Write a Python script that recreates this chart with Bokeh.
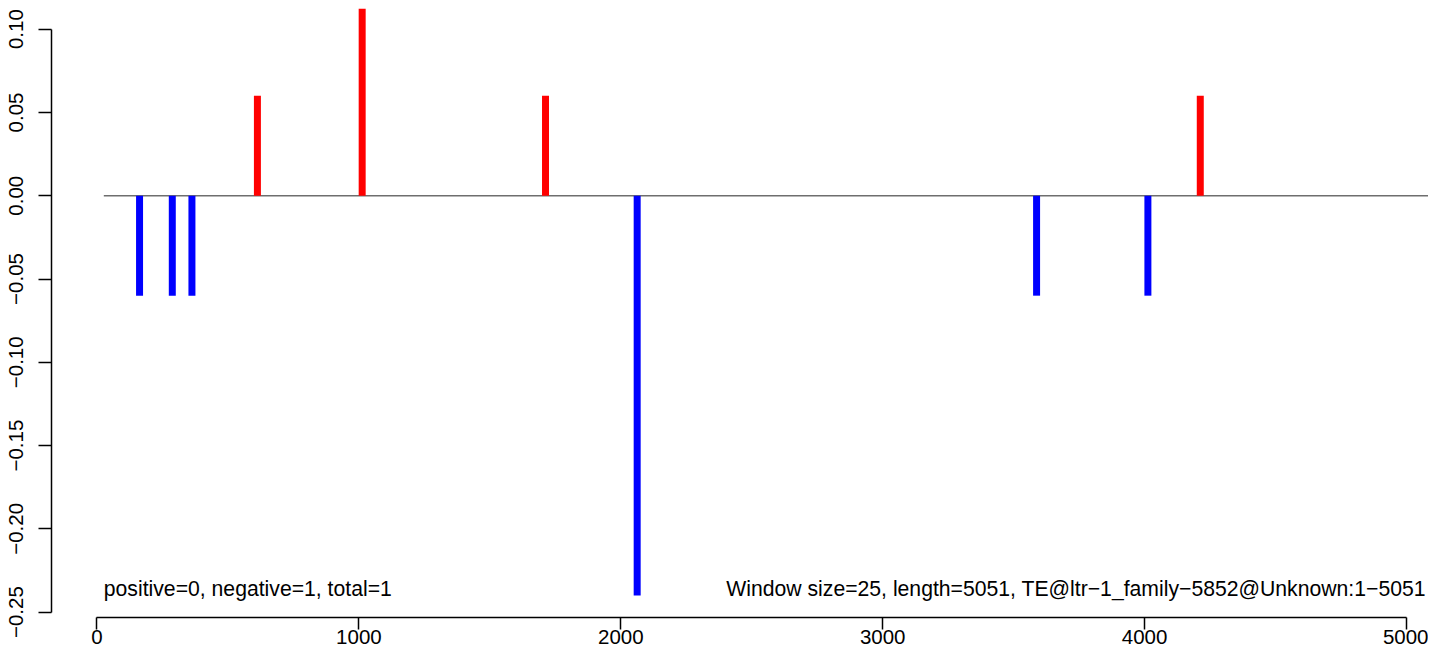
from bokeh.plotting import figure
from bokeh.models import Range1d, FixedTicker, Label, ColumnDataSource
from bokeh.embed import file_html
from bokeh.resources import INLINE

# ---- data ----
pos_x = [612.5, 1012.5, 1712.5, 4212.5]
pos_val = [0.06, 0.12, 0.06, 0.06]
neg_x = [162.5, 287.5, 362.5, 2062.5, 3587.5, 4012.5]
neg_val = [-0.06, -0.06, -0.06, -0.24, -0.06, -0.06]
x_ticks = [0, 1000, 2000, 3000, 4000, 5000]
y_ticks = [-0.25, -0.20, -0.15, -0.10, -0.05, 0.00, 0.05, 0.10]
y_tick_labels = ["\u22120.25", "\u22120.20", "\u22120.15", "\u22120.10", "\u22120.05", "0.00", "0.05", "0.10"]
baseline_x = [26, 5100]
left_note = "positive=0, negative=1, total=1"
right_note = "Window size=25, length=5051, TE@ltr\u22121_family\u22125852@Unknown:1\u22125051"

FONT = "Liberation Sans"

p = figure(width=1428, height=652, output_backend="svg", toolbar_location=None,
           x_range=Range1d(-173.7, 5083.9), y_range=Range1d(-0.2532, 0.1124),
           min_border_left=51, min_border_right=0, min_border_top=8, min_border_bottom=35)
p.outline_line_color = None
p.grid.visible = False
p.background_fill_color = "white"
p.border_fill_color = "white"

# axes
xa = p.xaxis[0]
xa.ticker = FixedTicker(ticks=x_ticks)
xa.bounds = (x_ticks[0], x_ticks[-1])
xa.minor_tick_line_color = None
xa.major_tick_in = 0
xa.major_tick_out = 12
xa.major_label_standoff = 0
xa.axis_line_width = 1.5
xa.major_tick_line_width = 1.5
xa.axis_line_color = "black"
xa.major_tick_line_color = "black"
xa.major_label_text_font = FONT
xa.major_label_text_font_size = "20.5px"
xa.major_label_text_color = "black"

ya = p.yaxis[0]
ya.ticker = FixedTicker(ticks=y_ticks)
ya.bounds = (y_ticks[0], y_ticks[-1])
ya.major_label_overrides = {t: l for t, l in zip(y_ticks, y_tick_labels)}
ya.minor_tick_line_color = None
ya.major_tick_in = 0
ya.major_tick_out = 13
ya.major_label_standoff = 15
ya.axis_line_width = 1.5
ya.major_tick_line_width = 1.5
ya.axis_line_color = "black"
ya.major_tick_line_color = "black"
ya.major_label_orientation = "vertical"
ya.major_label_text_font = FONT
ya.major_label_text_font_size = "20.5px"
ya.major_label_text_color = "black"

# zero line
p.line(x=baseline_x, y=[0, 0], line_color="#6e6e6e", line_width=1.3)

# bars
pos_src = ColumnDataSource(dict(x=pos_x, top=pos_val, bottom=[0] * len(pos_x)))
neg_src = ColumnDataSource(dict(x=neg_x, top=[0] * len(neg_x), bottom=neg_val))
p.vbar(x="x", top="top", bottom="bottom", width=26.7, source=pos_src,
       fill_color="#ff0000", line_color=None)
p.vbar(x="x", top="top", bottom="bottom", width=26.7, source=neg_src,
       fill_color="#0000ff", line_color=None)

# annotations
p.add_layout(Label(x=26, y=-0.2355, text=left_note, text_align="left", text_baseline="middle",
                   text_font=FONT, text_font_size="21.2px", text_color="black"))
p.add_layout(Label(x=5074, y=-0.2355, text=right_note, text_align="right", text_baseline="middle",
                   text_font=FONT, text_font_size="21.2px", text_color="black"))

open("out.html", "w").write(file_html(p, INLINE))
